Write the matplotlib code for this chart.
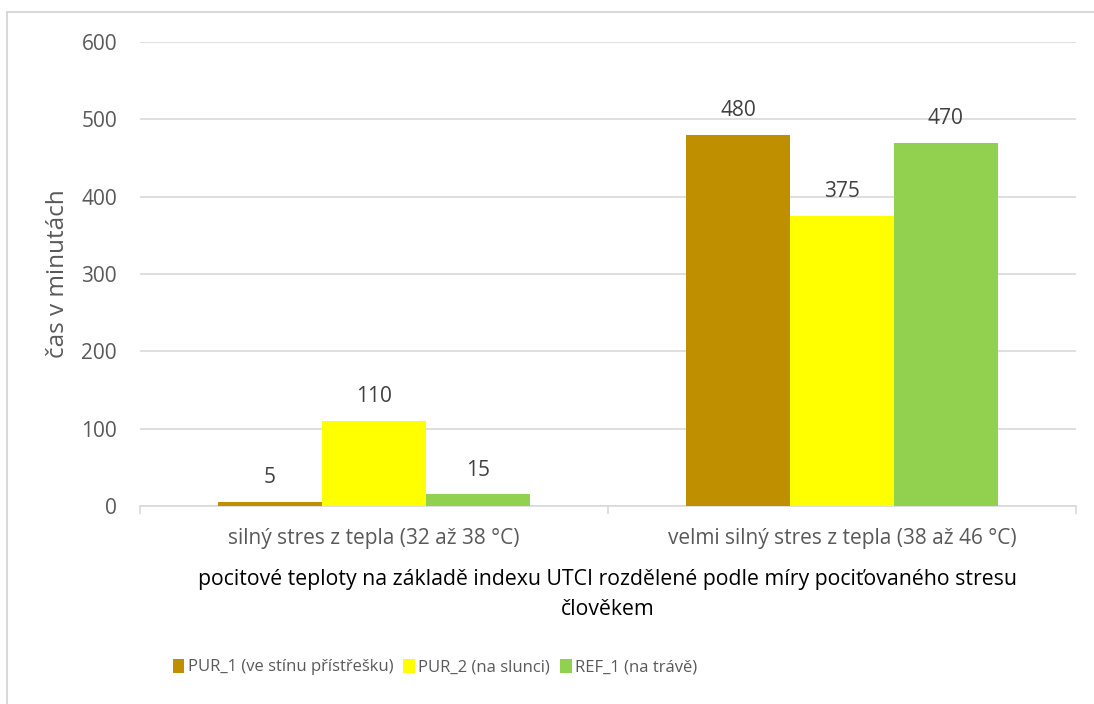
import numpy as np
import matplotlib
matplotlib.use('Agg')
from matplotlib import pyplot as plt
from matplotlib.patches import Rectangle

categories = ['silný stres z tepla (32 až 38 °C)', 'velmi silný stres z tepla (38 až 46 °C)']
series_names = ['PUR_1 (ve stínu přístřešku)', 'PUR_2 (na slunci)', 'REF_1 (na trávě)']
pur1 = [5, 480]
pur2 = [110, 375]
ref1 = [15, 470]
colors = ['#BF8F00', '#FFFF00', '#92D050']

plt.rcParams['font.family'] = ['Open Sans', 'DejaVu Sans']

fig = plt.figure(figsize=(10.94, 7.04), dpi=100)
ax = fig.add_axes([140/1094, 1 - 506/704, 936/1094, 464/704])

# chart frame (only top/left visible in the original)
fig.patches.append(Rectangle((7/1094, -0.1), 1.2, 1 - 12/704 + 0.1, transform=fig.transFigure,
                             fill=False, edgecolor='#D9D9D9', linewidth=1.5))

x = np.arange(len(categories))
w = 0.222
for i, (vals, name) in enumerate(zip([pur1, pur2, ref1], series_names)):
    bars = ax.bar(x + (i - 1) * w, vals, width=w, color=colors[i], label=name, zorder=3)
    for b, v in zip(bars, vals):
        ax.annotate(str(v), (b.get_x() + b.get_width() / 2, v), xytext=(0, 10),
                    textcoords='offset points', ha='center', va='bottom',
                    fontsize=15, color='#404040')

ax.set_xlim(-0.5, 1.5)
ax.set_ylim(0, 600)
ax.set_yticks(range(0, 601, 100))
ax.yaxis.grid(True, color='#D9D9D9', linewidth=1.2, zorder=0)
ax.set_axisbelow(True)
for s in ['top', 'right', 'left']:
    ax.spines[s].set_visible(False)
ax.spines['bottom'].set_color('#D9D9D9')
ax.spines['bottom'].set_linewidth(1.2)
ax.tick_params(axis='y', length=0, pad=16.5, labelsize=15, labelcolor='#595959')
ax.set_xticks([-0.5, 0.5, 1.5])
ax.set_xticklabels([])
ax.set_xticks(x, minor=True)
ax.set_xticklabels(categories, minor=True)
ax.tick_params(axis='x', which='major', length=6, color='#D9D9D9', width=1.2)
ax.tick_params(axis='x', which='minor', length=0, pad=16, labelsize=15, labelcolor='#595959')

ax.set_ylabel('čas v minutách', fontsize=17.5, color='#595959', labelpad=8)
ax.set_xlabel('pocitové teploty na základě indexu UTCI rozdělené podle míry pociťovaného stresu\nčlověkem',
              fontsize=15.3, color='#000000', labelpad=14, linespacing=1.6)

fig.legend(loc='center', bbox_to_anchor=(435/1094, 1 - 667/704), ncol=3, frameon=False,
           fontsize=12, labelcolor='#595959', handlelength=0.7, handleheight=0.9,
           handletextpad=0.2, columnspacing=0.6)

fig.savefig('out.png', dpi=100)
